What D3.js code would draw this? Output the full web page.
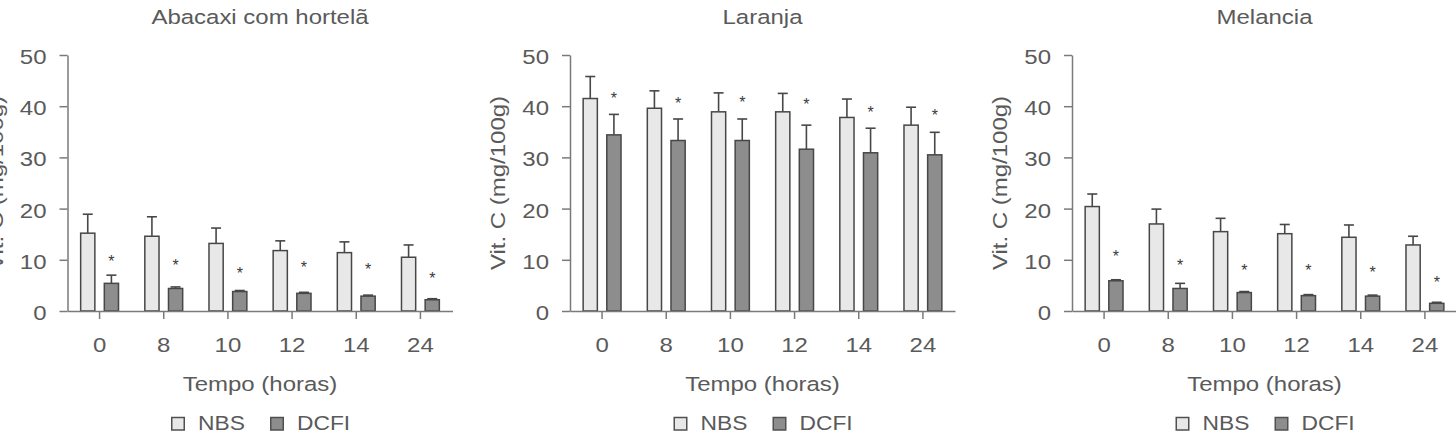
<!DOCTYPE html>
<html><head><meta charset="utf-8">
<script src="https://cdn.jsdelivr.net/npm/d3@7"></script>
<style>
body{margin:0;background:#fff}
svg{display:block}
text{font-family:"Liberation Sans",Arial,Helvetica,sans-serif;fill:#5a5a5a}
</style>
</head><body>
<svg id="chart" width="1456" height="442"></svg>
<script>
// ---- data ----
const categories = ["0", "8", "10", "12", "14", "24"];
const seriesNames = ["NBS", "DCFI"];
const panelTitles = ["Abacaxi com hortelã", "Laranja", "Melancia"];
const yTickValues = [0, 10, 20, 30, 40, 50];
const xAxisTitle = "Tempo (horas)";
const yAxisTitle = "Vit. C (mg/100g)";

const abacaxiNBS     = [15.2, 14.6, 13.2, 11.8, 11.4, 10.5];
const abacaxiNBSErr  = [3.7, 3.8, 3.0, 1.9, 2.1, 2.4];
const abacaxiDCFI    = [5.4, 4.4, 3.8, 3.45, 2.9, 2.2];
const abacaxiDCFIErr = [1.6, 0.3, 0.2, 0.2, 0.2, 0.2];
const abacaxiStars   = [10.3, 9.6, 8.0, 9.2, 8.8, 7.0];

const laranjaNBS     = [41.5, 39.6, 38.9, 38.9, 37.8, 36.3];
const laranjaNBSErr  = [4.3, 3.4, 3.7, 3.6, 3.6, 3.5];
const laranjaDCFI    = [34.4, 33.3, 33.3, 31.6, 30.9, 30.5];
const laranjaDCFIErr = [4.0, 4.2, 4.2, 4.7, 4.8, 4.4];
const laranjaStars   = [42.2, 41.3, 41.5, 41.0, 39.4, 38.8];

const melanciaNBS     = [20.4, 17.0, 15.5, 15.1, 14.4, 12.9];
const melanciaNBSErr  = [2.45, 2.9, 2.6, 1.8, 2.4, 1.7];
const melanciaDCFI    = [5.9, 4.4, 3.6, 3.0, 2.9, 1.5];
const melanciaDCFIErr = [0.2, 1.0, 0.2, 0.2, 0.2, 0.2];
const melanciaStars   = [11.3, 9.6, 8.5, 8.5, 8.3, 6.3];

const panels = [
  {title: panelTitles[0], nbs: abacaxiNBS, nbsErr: abacaxiNBSErr, dcfi: abacaxiDCFI, dcfiErr: abacaxiDCFIErr, stars: abacaxiStars},
  {title: panelTitles[1], nbs: laranjaNBS, nbsErr: laranjaNBSErr, dcfi: laranjaDCFI, dcfiErr: laranjaDCFIErr, stars: laranjaStars},
  {title: panelTitles[2], nbs: melanciaNBS, nbsErr: melanciaNBSErr, dcfi: melanciaDCFI, dcfiErr: melanciaDCFIErr, stars: melanciaStars}
];

// ---- layout / style ----
const panelX0 = [67.5, 570, 1072];
const plotW = 385, yTop = 55, yBottom = 311;
const FS = 20.5, SX = 1.17;
const axisColor = "#7a7a7a", barStroke = "#474747";
const fills = {NBS: "#e8e8e8", DCFI: "#8d8d8d"};

const svg = d3.select("#chart");
svg.append("rect").attr("width", 1456).attr("height", 442).attr("fill", "#fff");

const y = d3.scaleLinear().domain([0, 50]).range([yBottom, yTop]);

panels.forEach((p, pi) => {
  const x0 = panelX0[pi];
  const cx = x0 + plotW / 2;
  const g = svg.append("g");

  const x = d3.scaleBand().domain(categories).range([x0, x0 + plotW])
    .paddingInner(0.41).paddingOuter(0.205);
  const x1 = d3.scaleBand().domain(seriesNames).range([0, x.bandwidth()]).paddingInner(0.4);

  // bars
  const rows = categories.map((c, i) => ({
    cat: c,
    vals: [
      {s: "NBS", v: p.nbs[i], e: p.nbsErr[i]},
      {s: "DCFI", v: p.dcfi[i], e: p.dcfiErr[i]}
    ],
    star: p.stars[i]
  }));

  const grp = g.selectAll("g.grp").data(rows).join("g")
    .attr("transform", d => `translate(${x(d.cat)},0)`);

  // error bars (drawn first so bar outline sits on top)
  grp.selectAll("g.err").data(d => d.vals).join("g").each(function(d) {
    const cxb = x1(d.s) + x1.bandwidth() / 2;
    const sel = d3.select(this);
    sel.append("line").attr("x1", cxb).attr("x2", cxb)
      .attr("y1", y(d.v)).attr("y2", y(d.v + d.e))
      .attr("stroke", barStroke).attr("stroke-width", 1.6);
    sel.append("line").attr("x1", cxb - 5).attr("x2", cxb + 5)
      .attr("y1", y(d.v + d.e)).attr("y2", y(d.v + d.e))
      .attr("stroke", barStroke).attr("stroke-width", 1.6);
  });

  grp.selectAll("rect").data(d => d.vals).join("rect")
    .attr("x", d => x1(d.s))
    .attr("width", x1.bandwidth())
    .attr("y", d => y(d.v))
    .attr("height", d => y(0) - y(d.v))
    .attr("fill", d => fills[d.s])
    .attr("stroke", barStroke).attr("stroke-width", 1.5);

  // significance stars
  grp.append("text")
    .attr("x", x1("DCFI") + x1.bandwidth() / 2)
    .attr("y", d => y(d.star) + 9)
    .attr("text-anchor", "middle")
    .style("font-size", "16px").style("fill", "#3a3a3a")
    .text("*");

  // y axis
  const yAxis = g.append("g").attr("transform", `translate(${x0},0)`)
    .call(d3.axisLeft(y).tickValues(yTickValues).tickSize(8).tickSizeOuter(0).tickPadding(13));
  yAxis.select(".domain").attr("stroke", axisColor).attr("stroke-width", 1.5);
  yAxis.selectAll(".tick line").attr("stroke", axisColor).attr("stroke-width", 1.5);
  yAxis.selectAll(".tick text")
    .attr("x", -21 / SX).attr("dy", 8.5)
    .attr("transform", `scale(${SX},1)`)
    .style("font-size", FS + "px").attr("fill", "#5a5a5a");

  // x axis
  const xAxis = g.append("g").attr("transform", `translate(0,${yBottom})`)
    .call(d3.axisBottom(x).tickSize(8).tickSizeOuter(0).tickPadding(18.5));
  xAxis.select(".domain").attr("stroke", axisColor).attr("stroke-width", 1.5);
  xAxis.selectAll(".tick line").attr("stroke", axisColor).attr("stroke-width", 1.5);
  xAxis.selectAll(".tick text")
    .attr("transform", `scale(${SX},1)`)
    .style("font-size", FS + "px").attr("fill", "#5a5a5a");

  // titles
  g.append("text").attr("text-anchor", "middle")
    .attr("transform", `translate(${cx},24) scale(${SX},1)`)
    .style("font-size", FS + "px").text(p.title);

  g.append("text").attr("text-anchor", "middle")
    .attr("transform", `translate(${cx},391) scale(${SX},1)`)
    .style("font-size", FS + "px").text(xAxisTitle);

  g.append("text").attr("text-anchor", "middle")
    .attr("transform", `translate(${x0 - 65},${(yTop + yBottom) / 2}) rotate(-90) scale(${SX},1)`)
    .style("font-size", FS + "px").text(yAxisTitle);

  // legend
  const legendOffsets = {NBS: -89, DCFI: 10};
  seriesNames.forEach(s => {
    const lx = cx + legendOffsets[s];
    g.append("rect").attr("x", lx + 0.75).attr("y", 417.5).attr("width", 12.5).attr("height", 12.5)
      .attr("fill", fills[s]).attr("stroke", "#505050").attr("stroke-width", 1.5);
    g.append("text").attr("transform", `translate(${lx + 27},430) scale(${SX * 0.95},1)`)
      .style("font-size", FS + "px").text(s);
  });
});
</script>
</body></html>
